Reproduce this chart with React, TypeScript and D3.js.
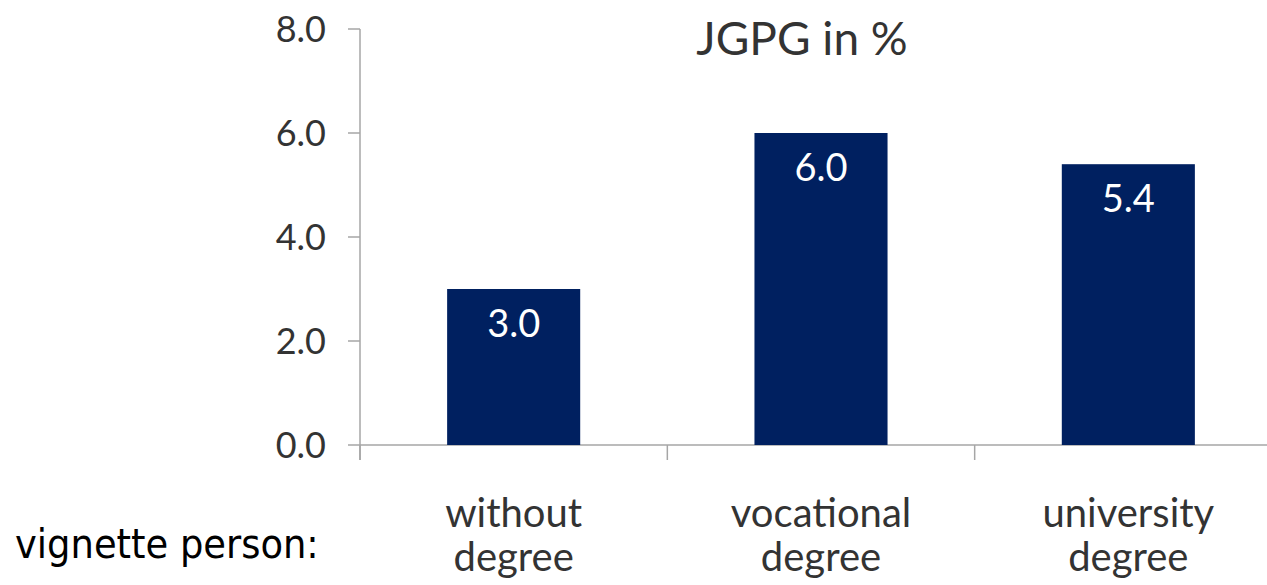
import React from "react";
import * as d3 from "d3";

const categories = ["without degree", "vocational degree", "university degree"];
const values = [3.0, 6.0, 5.4];
const yTicks = [0, 2, 4, 6, 8];
const title = "JGPG in %";
const sideLabel = "vignette person:";

const W = 1267;
const H = 585;

export default function App() {
  const x = d3.scaleBand<string>().domain(categories).range([360, 1282]).paddingInner(0.567).paddingOuter(0.2835);
  const y = d3.scaleLinear().domain([0, 8]).range([445, 29]);
  const step = x.step();
  const axisColor = "#a6a6a6";
  const boundaries = d3.range(categories.length + 1).map((i) => 360 + i * step);
  const calibri = "Lato, 'Open Sans', sans-serif";
  const textColor = "#333333";

  return (
    <svg width={W} height={H} style={{ position: "absolute", left: 0, top: 0, background: "#fff" }}>
      <rect x={0} y={0} width={W} height={H} fill="#fff" />
      {/* y axis */}
      <line x1={360} x2={360} y1={y(8)} y2={460} stroke={axisColor} strokeWidth={1.5} />
      {yTicks.map((t) => (
        <g key={t}>
          <line x1={348} x2={360} y1={y(t)} y2={y(t)} stroke={axisColor} strokeWidth={1.5} />
          <text x={326} y={y(t)} dy="0.35em" textAnchor="end" fontFamily={calibri} fontSize={36} fill={textColor}>
            {d3.format(".1f")(t)}
          </text>
        </g>
      ))}
      {/* x axis */}
      <line x1={360} x2={W} y1={y(0)} y2={y(0)} stroke={axisColor} strokeWidth={1.5} />
      {boundaries.map((b, i) => (
        <line key={i} x1={b} x2={b} y1={y(0)} y2={460} stroke={axisColor} strokeWidth={1.5} />
      ))}
      {/* bars */}
      {categories.map((c, i) => (
        <g key={c}>
          <rect x={x(c)} y={y(values[i])} width={x.bandwidth()} height={y(0) - y(values[i])} fill="#002060" />
          <text
            x={(x(c) as number) + x.bandwidth() / 2}
            y={y(values[i]) + 48}
            textAnchor="middle"
            fontFamily={calibri}
            fontSize={38}
            fill="#fff"
          >
            {d3.format(".1f")(values[i])}
          </text>
          {c.split(" ").map((w, j) => (
            <text
              key={j}
              x={(x(c) as number) + x.bandwidth() / 2}
              y={527 + j * 44}
              textAnchor="middle"
              fontFamily={calibri}
              fontSize={40}
              fill={textColor}
            >
              {w}
            </text>
          ))}
        </g>
      ))}
      <text x={802} y={55} textAnchor="middle" fontFamily={calibri} fontSize={46} fill={textColor}>
        {title}
      </text>
      <text x={15} y={558} fontFamily="'DejaVu Sans Condensed', 'DejaVu Sans', sans-serif" fontSize={41} fill="#000">
        {sideLabel}
      </text>
    </svg>
  );
}
